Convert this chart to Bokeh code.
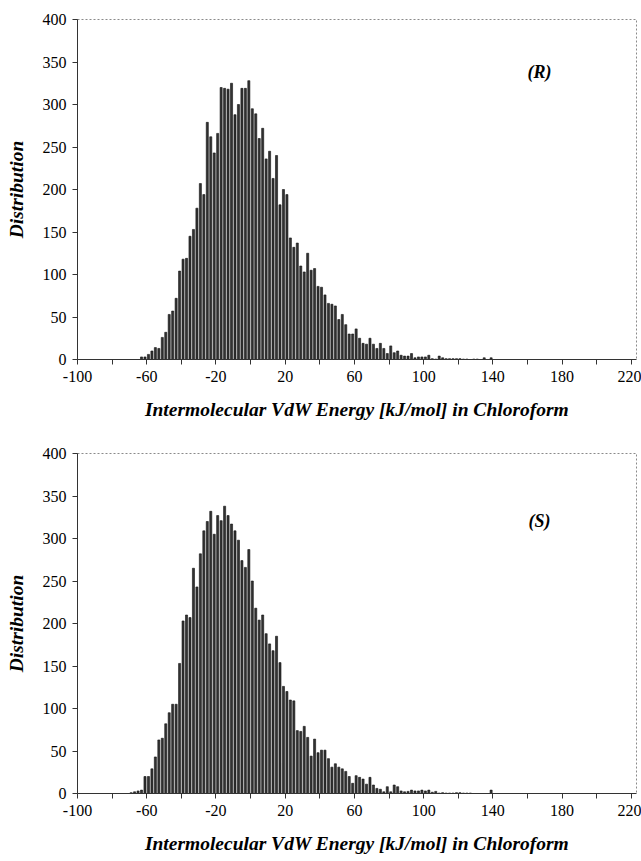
from bokeh.plotting import figure
from bokeh.layouts import column
from bokeh.models import Range1d, FixedTicker, Label, ColumnDataSource
from bokeh.embed import file_html
from bokeh.resources import INLINE

# Bin centres (kJ/mol), bins 2 kJ/mol wide
energy_bins = list(range(-69, 141, 2))

# (R) enantiomer distribution
r_counts = [
    0, 0, 0, 3, 3, 6, 10, 14, 13, 26,
    32, 53, 57, 72, 104, 118, 119, 145, 153, 178,
    207, 194, 279, 262, 243, 266, 320, 319, 318, 325,
    288, 300, 319, 319, 328, 295, 289, 260, 272, 236,
    245, 213, 240, 182, 200, 194, 143, 132, 137, 110,
    103, 125, 105, 107, 86, 85, 76, 66, 65, 63,
    47, 53, 41, 30, 30, 36, 25, 19, 18, 25,
    18, 13, 19, 13, 7, 16, 8, 10, 5, 4,
    4, 7, 2, 3, 3, 3, 5, 1, 0.5, 4,
    2, 1, 1, 1, 1, 1, 0.5, 0.5, 0, 0.5,
    0.5, 0, 2, 0, 2,
]

# (S) enantiomer distribution
s_counts = [
    1, 2, 3, 4, 20, 20, 29, 43, 63, 65,
    82, 95, 105, 105, 153, 203, 210, 207, 265, 243,
    282, 309, 320, 332, 305, 327, 321, 338, 327, 317,
    309, 298, 274, 266, 287, 250, 218, 204, 210, 188,
    176, 168, 185, 154, 126, 120, 110, 109, 74, 73,
    79, 66, 44, 64, 48, 51, 51, 41, 31, 35,
    31, 29, 26, 20, 12, 21, 19, 17, 11, 19,
    10, 6, 5, 2, 8, 2, 10, 8, 3, 2,
    2.5, 4, 3, 3, 4, 3, 4, 1.5, 2.5, 0.5,
    1, 0.5, 0.5, 0.5, 1, 1, 0.5, 0.5, 0.5, 0,
    0, 0, 0, 0, 4,
]

x_major = [-100, -60, -20, 20, 60, 100, 140, 180, 220]
x_major_labels = ["-100", "-60", "-20", "20", "60", "100", "140", "180", "220"]
x_minor = [-80, -40, 0, 40, 80, 120, 160, 200]
y_ticks = [0, 50, 100, 150, 200, 250, 300, 350, 400]
x_title = "Intermolecular VdW Energy [kJ/mol] in Chloroform"
y_title = "Distribution"

SERIF = "Liberation Serif"


def make_panel(counts, tag, tag_y, top_b, bottom_b, height):
    p = figure(width=641, height=height,
               x_range=Range1d(-100, 223), y_range=Range1d(0, 400),
               output_backend="svg", toolbar_location=None,
               min_border_left=77, min_border_right=5,
               min_border_top=top_b, min_border_bottom=bottom_b)
    src = ColumnDataSource(dict(x=energy_bins, top=counts))
    p.vbar(x="x", top="top", width=1.2, bottom=0, source=src,
           fill_color="#333333", line_color="#111111", line_width=0.6)

    p.xgrid.visible = False
    p.ygrid.visible = False
    p.background_fill_color = "white"
    p.border_fill_color = "white"
    p.outline_line_color = "#8a8a8a"
    p.outline_line_dash = "2 2"
    p.outline_line_width = 1

    p.xaxis.ticker = FixedTicker(ticks=x_major, minor_ticks=x_minor)
    p.xaxis.major_label_overrides = {t: s for t, s in zip(x_major, x_major_labels)}
    p.yaxis.ticker = FixedTicker(ticks=y_ticks)
    for ax in (p.xaxis[0], p.yaxis[0]):
        ax.axis_line_color = "#333333"
        ax.axis_line_width = 1
        ax.major_tick_line_color = "#333333"
        ax.major_tick_in = 0
        ax.major_tick_out = 5
        ax.major_label_text_font = SERIF
        ax.major_label_text_font_size = "16px"
        ax.major_label_text_color = "black"
        ax.axis_label_text_font = SERIF
        ax.axis_label_text_font_style = "bold italic"
        ax.axis_label_text_font_size = "19.5px"
        ax.axis_label_text_color = "black"
    p.xaxis.minor_tick_line_color = "#333333"
    p.xaxis.minor_tick_in = 0
    p.xaxis.minor_tick_out = 5
    p.yaxis.minor_tick_line_color = None
    p.xaxis.major_label_standoff = 6
    p.yaxis.major_label_standoff = 6
    p.xaxis.axis_label = x_title
    p.yaxis.axis_label = y_title
    p.xaxis.axis_label_standoff = 14
    p.yaxis.axis_label_standoff = 13

    p.add_layout(Label(x=167, y=tag_y, text=tag, text_font=SERIF,
                       text_font_style="bold italic", text_font_size="18px",
                       text_align="center", text_baseline="middle",
                       text_color="black"))
    return p


p1 = make_panel(r_counts, "(R)", 338, 19, 71, 430)
p2 = make_panel(s_counts, "(S)", 321, 23, 68, 431)

layout = column(p1, p2, spacing=0)
open("out.html", "w").write(file_html(layout, INLINE))
